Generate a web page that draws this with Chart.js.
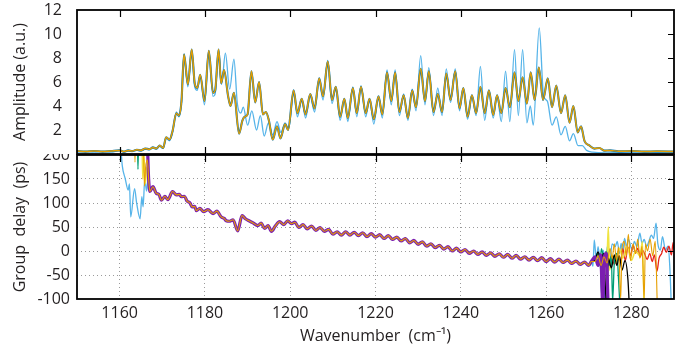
<!DOCTYPE html>
<html>
<head>
<meta charset="utf-8">
<script src="https://cdn.jsdelivr.net/npm/chart.js@4.4.1/dist/chart.umd.min.js"></script>
<style>
  html, body { margin: 0; padding: 0; background: #fff; }
  #wrap { position: relative; width: 675px; height: 346px; }
  .panel { position: absolute; left: 0; width: 675px; }
  #top { top: 0; height: 156px; }
  #bottom { top: 154px; height: 192px; }
</style>
</head>
<body>
<div id="wrap">
  <div class="panel" id="top"><canvas id="amp" width="675" height="156"></canvas></div>
  <div class="panel" id="bottom"><canvas id="gd" width="675" height="192"></canvas></div>
</div>
<script>
// axis ticks
var wnTicks = [1150, 1160, 1180, 1200, 1220, 1240, 1260, 1280, 1290];
var ampTicks = [0, 2, 4, 6, 8, 10, 12];
var gdTicks = [-100, -50, 0, 50, 100, 150, 200];

// amplitude, averaged traces (wavenumber / value)
var ampWn = [
  1150, 1152, 1154, 1156, 1158, 1160, 1161, 1162, 1163, 1164,
  1165, 1166, 1167, 1167.8, 1168.6, 1169.4, 1170.2, 1170.9, 1171.7, 1172.4,
  1173.3, 1173.9, 1174.5, 1175.1, 1176.0, 1176.9, 1177.6, 1178.2, 1178.9, 1179.9,
  1180.9, 1181.9, 1182.4, 1183.2, 1183.8, 1184.5, 1185.4, 1186.0, 1186.8, 1188.0,
  1188.8, 1189.3, 1190.0, 1190.9, 1191.8, 1192.7, 1193.6, 1194.3, 1195.0, 1195.9,
  1196.9, 1197.7, 1198.8, 1199.5, 1200.8, 1201.7, 1202.7, 1203.6, 1204.7, 1205.7,
  1206.8, 1207.7, 1208.8, 1209.8, 1210.7, 1211.7, 1212.7, 1213.5, 1214.7, 1215.6,
  1216.6, 1217.7, 1218.6, 1219.6, 1220.7, 1221.6, 1222.7, 1223.7, 1224.6, 1225.6,
  1226.6, 1227.6, 1228.6, 1229.5, 1230.6, 1231.6, 1232.5, 1233.6, 1234.6, 1235.6,
  1236.6, 1237.6, 1238.7, 1239.7, 1240.6, 1241.6, 1242.6, 1243.6, 1244.6, 1245.6,
  1246.6, 1247.6, 1248.5, 1249.5, 1250.5, 1251.5, 1252.6, 1253.5, 1254.5, 1255.5,
  1256.4, 1257.3, 1258.3, 1259.3, 1260.4, 1261.4, 1262.4, 1263.5, 1264.5, 1265.5,
  1266.4, 1267.4, 1268.2, 1269.0, 1270.2, 1271.3, 1272.5, 1273.7, 1275, 1277,
  1280, 1283, 1286, 1290
];
var ampMain = [
  0.25, 0.2, 0.25, 0.2, 0.25, 0.3, 0.2, 0.3, 0.25, 0.35,
  0.3, 0.45, 0.4, 0.55, 0.45, 0.7, 0.5, 1.4, 1.2, 1.9,
  3.4, 3.2, 4.4, 8.3, 5.8, 8.7, 5.9, 5.5, 6.6, 4.4,
  8.6, 5.1, 5.3, 8.7, 5.9, 7.0, 4.9, 4.0, 5.1, 1.7,
  2.8, 3.1, 3.3, 6.9, 4.3, 6.0, 3.3, 3.5, 2.8, 1.2,
  2.3, 1.3, 2.5, 2.0, 5.3, 3.4, 4.6, 3.3, 5.0, 3.8,
  6.3, 4.8, 7.7, 4.5, 5.6, 3.1, 4.6, 3.0, 5.5, 3.4,
  5.6, 3.4, 4.6, 2.9, 4.8, 3.3, 6.8, 4.4, 6.8, 3.5,
  4.9, 3.0, 5.3, 3.9, 7.1, 4.4, 6.9, 3.5, 5.0, 3.5,
  6.7, 4.5, 6.9, 3.8, 5.5, 3.1, 4.9, 3.4, 5.6, 3.4,
  5.3, 3.25, 4.9, 3.4, 5.5, 3.9, 6.8, 4.4, 6.4, 4.2,
  6.8, 4.5, 7.2, 4.5, 6.3, 3.9, 5.7, 3.4, 4.9, 2.6,
  4.0, 1.8, 2.3, 1.1, 0.7, 0.45, 0.5, 0.28, 0.3, 0.22,
  0.25, 0.2, 0.22, 0.2
];

// amplitude, single-shot trace
var ampSkyWn = [
  1150, 1152, 1154, 1156, 1158, 1160, 1161, 1162, 1163, 1164,
  1165, 1166, 1167, 1167.8, 1168.6, 1169.4, 1170.2, 1170.9, 1171.7, 1172.4,
  1173.3, 1173.9, 1174.5, 1175.1, 1176.0, 1176.9, 1177.6, 1178.2, 1178.9, 1179.9,
  1180.9, 1181.9, 1182.4, 1183.2, 1183.9, 1184.8, 1185.8, 1186.8, 1187.6, 1188.4,
  1189.0, 1190.0, 1191.0, 1192.1, 1193.0, 1193.9, 1194.9, 1195.9, 1196.9, 1197.8,
  1198.8, 1199.6, 1200.8, 1201.7, 1202.7, 1203.6, 1204.7, 1205.7, 1206.8, 1207.7,
  1208.8, 1209.8, 1210.7, 1211.7, 1212.7, 1213.5, 1214.7, 1215.6, 1216.6, 1217.7,
  1218.6, 1219.6, 1220.7, 1221.6, 1222.7, 1223.7, 1224.6, 1225.6, 1226.6, 1227.6,
  1228.6, 1229.5, 1230.6, 1231.6, 1232.5, 1233.6, 1234.6, 1235.6, 1236.6, 1237.6,
  1238.7, 1239.7, 1240.6, 1241.6, 1242.6, 1243.6, 1244.6, 1245.6, 1246.6, 1247.6,
  1248.5, 1249.5, 1250.5, 1251.5, 1252.6, 1253.5, 1254.5, 1255.5, 1256.3, 1257.0,
  1258.4, 1259.4, 1260.3, 1261.4, 1262.4, 1263.5, 1264.5, 1265.5, 1266.4, 1267.5,
  1268.5, 1269.5, 1271, 1274, 1278, 1282, 1286, 1290
];
var ampSky = [
  0.15, 0.2, 0.15, 0.2, 0.15, 0.3, 0.15, 0.25, 0.2, 0.3,
  0.25, 0.4, 0.35, 0.5, 0.4, 0.65, 0.45, 1.3, 1.1, 1.8,
  3.5, 3.1, 4.3, 8.3, 5.6, 8.6, 5.6, 5.3, 6.5, 4.1,
  8.5, 4.8, 5.0, 8.6, 5.8, 8.4, 5.4, 7.9, 4.2, 3.4,
  3.9, 2.4, 3.6, 2.0, 3.2, 1.5, 2.6, 1.6, 2.7, 1.8,
  2.6, 2.1, 5.0, 3.1, 4.5, 3.0, 4.8, 3.5, 6.1, 4.5,
  7.8, 4.2, 5.5, 2.8, 4.6, 2.7, 5.6, 3.1, 5.7, 3.1,
  4.6, 2.5, 4.8, 3.0, 7.0, 4.1, 7.0, 3.2, 5.0, 2.8,
  5.4, 3.6, 8.2, 4.1, 7.2, 3.2, 5.5, 3.2, 7.1, 4.3,
  7.1, 3.6, 5.5, 2.9, 4.9, 3.2, 7.3, 2.8, 5.3, 3.0,
  4.9, 2.7, 6.9, 2.7, 8.7, 3.2, 8.7, 2.6, 4.0, 2.4,
  10.5, 4.9, 4.4, 2.4, 3.1, 1.6, 2.3, 1.1, 1.7, 0.7,
  0.7, 0.3, 0.15, 0.1, 0.12, 0.1, 0.12, 0.1
];

// group delay, common part of all traces
var gdWn = [
  1166.8, 1167.1, 1167.8, 1168.6, 1169.2, 1169.8, 1170.6, 1171.3, 1172.4, 1173.3,
  1174.0, 1174.5, 1175.2, 1175.8, 1176.5, 1177.0, 1177.6, 1178.0, 1178.8, 1179.7,
  1180.7, 1181.9, 1182.8, 1183.8, 1184.5, 1185.0, 1185.7, 1186.6, 1187.7, 1188.7,
  1189.5, 1190.1, 1191.2, 1192.4, 1193.2, 1194.0, 1194.8, 1195.6, 1196.5, 1197.5,
  1198.5, 1199.4, 1200.3, 1201.1, 1202.0, 1203.0, 1204.0, 1205.0, 1206.0, 1207.0,
  1208.0, 1209.0, 1210.0, 1211.0, 1212.0, 1213.0, 1214.0, 1215.0, 1216.0, 1217.0,
  1218.0, 1219.0, 1220.0, 1221.0, 1222.0, 1223.0, 1224.0, 1225.0, 1226.0, 1227.0,
  1228.0, 1229.0, 1230.0, 1231.0, 1232.0, 1233.0, 1234.0, 1235.0, 1236.0, 1237.0,
  1238.0, 1239.0, 1240.0, 1241.0, 1242.0, 1243.0, 1244.0, 1245.0, 1246.0, 1247.0,
  1248.0, 1249.0, 1250.0, 1251.0, 1252.0, 1253.0, 1254.0, 1255.0, 1256.0, 1257.0,
  1258.0, 1259.0, 1260.0, 1261.0, 1262.0, 1263.0, 1264.0, 1265.0, 1266.0, 1267.0,
  1268.0, 1269.0, 1270.0, 1270.6
];
var gdBody = [
  150, 124, 134, 120, 118, 106, 114, 107, 124, 117,
  118, 113, 114, 104, 100, 92, 93, 84, 89, 82,
  86, 78, 83, 71, 68, 63, 62, 65, 42, 74,
  67, 64, 59, 53, 58, 47, 53, 41, 52, 61,
  55, 63, 57, 60, 49, 55, 46, 52, 43, 49,
  41, 45, 35, 40, 33, 40, 33, 39, 32, 38,
  30, 36, 29, 34, 26, 32, 24, 29, 21, 26,
  17, 22, 14, 19, 10, 15, 7, 12, 4, 9,
  0, 6, -2, 3, -5, 0, -7, -2, -9, -4,
  -11, -6, -13, -7, -15, -9, -17, -12, -19, -13,
  -20, -14, -22, -16, -23, -17, -24, -19, -26, -21,
  -28, -23, -30, -22
];

// group delay, where the traces part (low and high wavenumber edges)
var gdHeadSky = [[1150, 260], [1159.9, 260], [1160.6, 179], [1161.3, 151], [1162.0, 127], [1162.3, 140], [1162.6, 71], [1163.5, 130], [1164.0, 99], [1164.8, 67], [1165.2, 113], [1165.5, 92], [1165.9, 151], [1166.3, 125], [1166.6, 145]];
var gdHeadOrange = [[1150, 260], [1163.4, 260], [1163.6, 185], [1163.8, 260], [1165.5, 260], [1165.8, 135], [1166.1, 175], [1166.5, 190]];
var gdHeadYellow = [[1150, 260], [1165.2, 260], [1165.4, 150], [1165.7, 200], [1166.0, 140], [1166.4, 175]];
var gdHeadGreen = [[1150, 260], [1164.1, 260], [1164.3, 170], [1164.5, 260], [1166.3, 260]];
var gdHeadOther = [[1150, 260], [1166.3, 260]];

var gdTailSky = [[1271.0, -32], [1271.3, 23], [1271.8, -19], [1272.2, 9], [1272.9, -40], [1273.4, 2], [1273.9, -22], [1274.4, 10], [1274.8, -33], [1275.5, 15], [1276.2, 9], [1276.7, 20], [1277.2, -5], [1277.6, 16], [1278.0, -2], [1278.4, 26], [1278.9, 9], [1279.3, 24], [1280.2, 2], [1280.7, 20], [1281.3, 9], [1282.0, 37], [1282.5, 16], [1283.0, 24], [1283.6, 9], [1284.1, 20], [1284.7, 33], [1285.2, 26], [1285.8, 58], [1286.2, 16], [1286.8, 2], [1287.3, 30], [1288.0, 2], [1288.6, 10], [1289.0, -30], [1289.4, -120]];
var gdTailOrange = [[1271.5, -22], [1272.2, -10], [1272.9, -30], [1273.6, -12], [1274.3, -25], [1275.0, 5], [1275.5, -15], [1276.0, 15], [1276.5, -20], [1277.0, 8], [1277.5, -100], [1277.8, 5], [1278.3, 20], [1278.8, -10], [1279.3, 35], [1279.8, -20], [1280.4, 15], [1281.0, -5], [1281.5, 25], [1282.0, -15], [1282.5, 10], [1283.0, -100], [1283.3, 15], [1283.8, 0], [1284.4, 25], [1285.0, -10], [1285.6, 20], [1286.1, -120]];
var gdTailYellow = [[1271.5, -20], [1272.2, -8], [1272.9, -28], [1273.5, -10], [1274.2, -30], [1274.6, 50], [1274.9, -40], [1275.6, -10], [1276.4, -25], [1277.2, 5], [1278.0, -15], [1279.0, 10], [1280.0, -20], [1281.0, 0], [1282.0, -10], [1282.6, 20], [1283.0, -130]];
var gdTailGreen = [[1271.5, -20], [1272.0, -5], [1272.6, -25], [1273.0, 5], [1273.6, -20], [1274.2, -2], [1274.8, -30], [1275.3, -10], [1275.6, -105], [1276.0, -25], [1276.6, -5], [1277.0, -60], [1277.4, -130]];
var gdTailBlue = [[1271.5, -15], [1272.1, -30], [1272.6, -5], [1273.1, -100], [1273.4, -20], [1273.9, -130]];
var gdTailPurple = [[1271.5, -12], [1272.2, -30], [1272.8, -8], [1273.3, -110], [1273.6, -15], [1274.1, -5], [1274.6, -130]];
var gdTailBlack = [[1271.5, -18], [1272.2, -2], [1272.8, -22], [1273.5, -5], [1274.2, -120], [1274.6, -15], [1275.3, -35], [1276.0, -8], [1276.6, -30], [1277.2, -10], [1277.8, -40], [1278.5, -20], [1279.2, -60], [1279.6, -130]];
var gdTailRed = [[1271.5, -20], [1272.3, -8], [1273.0, -25], [1273.8, -10], [1274.5, -30], [1275.3, -12], [1276.0, -28], [1276.8, -8], [1277.5, -22], [1278.0, 5], [1278.6, -20], [1279.2, 8], [1279.8, -10], [1280.4, 12], [1281.0, -5], [1281.5, 6], [1282.1, -12], [1282.6, 2], [1283.2, -8], [1283.7, -18], [1284.3, -5], [1284.9, -22], [1285.4, -8], [1286.0, -42], [1286.5, -15], [1287.1, -5], [1287.6, 8], [1288.2, -3], [1288.8, 10], [1289.4, -8], [1289.8, 18], [1290, 5]];

var colors = {
  sky: "#56B4E9", orange: "#E69F00", yellow: "#F0E442", green: "#009E73",
  blue: "#0072B2", purple: "#7B1FB0", red: "#E8221B", black: "#000000"
};

Chart.defaults.font.family = "'Open Sans', sans-serif";
Chart.defaults.font.size = 16;
Chart.defaults.color = "#231f20";

function toPoints(wn, vals) {
  return wn.map((w, i) => ({ x: w, y: vals[i] }));
}
function pairs(list) {
  return list.map(p => ({ x: p[0], y: p[1] }));
}
function gdTrace(head, tail) {
  return pairs(head).concat(toPoints(gdWn, gdBody), pairs(tail));
}
function line(data, color, width) {
  return { data: data, borderColor: color, borderWidth: width, pointRadius: 0, cubicInterpolationMode: "monotone", fill: false };
}
// keep the plot box fixed: no extra room for the end tick labels
function noLabelMargins(s) {
  s.paddingTop = 0; s.paddingBottom = 0; s.paddingLeft = 0; s.paddingRight = 0;
}

// black frame with short inward ticks
var framePlugin = {
  id: "frame",
  afterDatasetsDraw(chart, args, opts) {
    var ctx = chart.ctx, a = chart.chartArea, sx = chart.scales.x, sy = chart.scales.y;
    ctx.save();
    ctx.strokeStyle = "#000";
    ctx.lineWidth = 1.8;
    ctx.strokeRect(a.left, a.top, a.right - a.left, a.bottom - a.top);
    ctx.lineWidth = 1.2;
    ctx.beginPath();
    opts.xMarks.forEach(v => {
      var px = Math.round(sx.getPixelForValue(v)) + 0.5;
      if (opts.xTop) { ctx.moveTo(px, a.top); ctx.lineTo(px, a.top + 7); }
      if (opts.xBottom) { ctx.moveTo(px, a.bottom); ctx.lineTo(px, a.bottom - 7); }
    });
    opts.yMarks.forEach(v => {
      var py = Math.round(sy.getPixelForValue(v)) + 0.5;
      ctx.moveTo(a.right, py); ctx.lineTo(a.right - 6, py);
    });
    ctx.stroke();
    ctx.restore();
  }
};

var innerWn = wnTicks.filter(v => v !== 1150 && v !== 1290);

new Chart(document.getElementById("amp"), {
  type: "line",
  data: {
    datasets: [
      line(toPoints(ampWn, ampMain), colors.orange, 1.5),
      line(toPoints(ampWn, ampMain), colors.blue, 2.1),
      line(toPoints(ampSkyWn, ampSky), colors.sky, 1.3)
    ]
  },
  options: {
    responsive: false,
    animation: false,
    layout: { padding: { top: 10, right: 1, bottom: 2, left: 0 } },
    plugins: {
      legend: { display: false },
      tooltip: { enabled: false },
      frame: { xMarks: innerWn, xTop: true, xBottom: true, yMarks: [2, 4, 6, 8, 10] }
    },
    scales: {
      x: { type: "linear", min: 1150, max: 1290, display: false, afterFit: noLabelMargins },
      y: {
        min: 0, max: 12,
        afterFit: s => { s.width = 77; noLabelMargins(s); },
        afterBuildTicks: s => { s.ticks = ampTicks.map(v => ({ value: v })); },
        grid: { display: false },
        border: { display: false },
        ticks: { padding: 7, autoSkip: false, callback: v => v === 0 ? "" : String(v) },
        title: { display: true, text: "Amplitude (a.u.)", padding: { top: 11, bottom: 0 } }
      }
    }
  },
  plugins: [framePlugin]
});

var hideEdge = (edges) => (c) => edges.indexOf(c.tick.value) >= 0 ? "rgba(0,0,0,0)" : "#9a9a9a";

new Chart(document.getElementById("gd"), {
  type: "line",
  data: {
    datasets: [
      line(gdTrace(gdHeadOrange, gdTailOrange), colors.orange, 1.1),
      line(gdTrace(gdHeadOther, gdTailPurple), colors.purple, 3.2),
      line(gdTrace(gdHeadOther, gdTailBlack), colors.black, 1.3),
      line(gdTrace(gdHeadGreen, gdTailGreen), colors.green, 1.3),
      line(gdTrace(gdHeadYellow, gdTailYellow), colors.yellow, 1.5),
      line(gdTrace(gdHeadOther, gdTailBlue), colors.blue, 1.3),
      line(gdTrace(gdHeadOther, gdTailRed), colors.red, 1.3),
      line(gdTrace(gdHeadSky, gdTailSky), colors.sky, 1.3)
    ]
  },
  options: {
    responsive: false,
    animation: false,
    layout: { padding: { top: 1, right: 1, bottom: 0, left: 0 } },
    plugins: {
      legend: { display: false },
      tooltip: { enabled: false },
      frame: { xMarks: innerWn, xTop: true, xBottom: false, yMarks: [-50, 0, 50, 100, 150] }
    },
    scales: {
      x: {
        type: "linear", min: 1150, max: 1290,
        afterFit: s => { s.height = 47; noLabelMargins(s); },
        afterBuildTicks: s => { s.ticks = wnTicks.map(v => ({ value: v })); },
        grid: { drawTicks: false, color: hideEdge([1150, 1290]), lineWidth: 1 },
        border: { display: false, dash: [1, 3] },
        ticks: { padding: 5, maxRotation: 0, autoSkip: false, callback: v => (v === 1150 || v === 1290) ? "" : String(v) },
        title: { display: true, text: "Wavenumber  (cm\u207B\u00B9)", padding: { top: 0, bottom: 0 } }
      },
      y: {
        min: -100, max: 200,
        afterFit: s => { s.width = 77; noLabelMargins(s); },
        afterBuildTicks: s => { s.ticks = gdTicks.map(v => ({ value: v })); },
        grid: { drawTicks: false, color: hideEdge([-100, 200]), lineWidth: 1 },
        border: { display: false, dash: [1, 3] },
        ticks: { padding: 7, autoSkip: false, callback: v => String(v) },
        title: { display: true, text: "Group  delay  (ps)", padding: { top: 11, bottom: 0 } }
      }
    }
  },
  plugins: [framePlugin]
});
</script>
</body>
</html>
